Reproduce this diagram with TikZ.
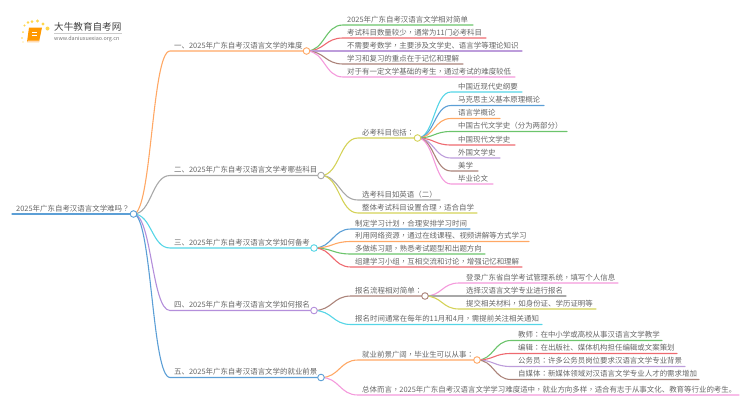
\documentclass[tikz,border=0pt]{standalone}
\usepackage{fontspec}
\setmainfont{Noto Sans CJK SC}
\newfontfamily\tcf{Noto Sans CJK TC}
\usetikzlibrary{calc}
\catcode`，=\active \protected\def，{{\tcf\char"FF0C }}
\catcode`：=\active \protected\def：{{\tcf\char"FF1A }}
\catcode`？=\active \protected\def？{{\tcf\char"FF1F }}
\definecolor{cOrange}{HTML}{FFA865}
\definecolor{cGrey}{HTML}{A8A8A8}
\definecolor{cCyan}{HTML}{55D5E6}
\definecolor{cPurple}{HTML}{B48FDB}
\definecolor{cBlue}{HTML}{5C9FD6}
\definecolor{cGreen}{HTML}{6CC46C}
\definecolor{cRed}{HTML}{EE6A70}
\definecolor{cBrown}{HTML}{AB8379}
\definecolor{cPink}{HTML}{F49ADC}
\definecolor{cOlive}{HTML}{D4D258}
\definecolor{cLilac}{HTML}{BD9DDB}
\definecolor{txt}{HTML}{666666}
\tikzset{
  x=1pt,y=-1pt,
  lbl/.style={inner sep=0pt,anchor=base west,text=txt,font=\fontsize{7.45}{9}\selectfont},
  hub/.style={circle,draw=#1,fill=white,line width=0.9pt,minimum size=6.6pt,inner sep=0pt},
  wire/.style={line width=1.1pt,line cap=round},
}
% name, parent, curve-end x, text x, y, end x, colour, text
\newcommand{\leaf}[8]{%
  \coordinate (#1s) at (#3,#5);
  \coordinate (#1e) at (#6,#5);
  \draw[wire,#7] (#2) .. controls ($(#2)!0.5!(#1s |- #2)$) and ($(#1s)!0.5!(#2 |- #1s)$) .. (#1s) -- (#1e);
  \node[lbl] (#1) at (#4,#5-2.6) {#8};
}
\newcommand{\hubat}[3]{\node[hub=#3] (#1) at #2 {};}
\begin{document}
\begin{tikzpicture}
\useasboundingbox (0,0) rectangle (750,410);
\coordinate (R) at (133.5,214);
\coordinate (B1) at (306.5,51);
\coordinate (B2) at (321,175.5);
\coordinate (B3) at (314,248);
\coordinate (B4) at (314,310.5);
\coordinate (B5) at (321,377.5);
\coordinate (S2) at (417.5,138);
\coordinate (S4) at (425,296);
\coordinate (S5) at (477,360);
% leaves of B1
\leaf{a1}{B1}{343}{347}{25}{473}{cGreen}{2025年广东自考汉语言文学相对简单}
\leaf{a2}{B1}{343}{347}{38}{486}{cRed}{考试科目数量较少，通常为11门必考科目}
\leaf{a3}{B1}{343}{347}{51}{522}{cLilac}{不需要考数学，主要涉及文学史、语言学等理论知识}
\leaf{a4}{B1}{343}{347}{64}{463}{cBrown}{学习和复习的重点在于记忆和理解}
\leaf{a5}{B1}{343}{347}{77}{515}{cPink}{对于有一定文学基础的考生，通过考试的难度较低}
% S2
\leaf{b1}{S2}{451}{458}{92}{522}{cCyan}{中国近现代史纲要}
\leaf{b2}{S2}{451}{458}{105.5}{544}{cBlue}{马克思主义基本原理概论}
\leaf{b3}{S2}{451}{458}{118.5}{500}{cOrange}{语言学概论}
\leaf{b4}{S2}{451}{458}{131.5}{567}{cGreen}{中国古代文学史（分为两部分）}
\leaf{b5}{S2}{451}{458}{145}{515}{cRed}{中国现代文学史}
\leaf{b6}{S2}{451}{458}{158}{500}{cLilac}{外国文学史}
\leaf{b7}{S2}{451}{458}{171}{478}{cBrown}{美学}
\leaf{b8}{S2}{451}{458}{184}{493}{cPink}{毕业论文}
% B2
\leaf{c1}{B2}{358}{362}{138}{414}{cOlive}{必考科目包括：}
\leaf{c2}{B2}{358}{362}{200}{440}{cGrey}{选考科目如英语（二）}
\leaf{c3}{B2}{358}{362}{213}{477}{cOlive}{整体考试科目设置合理，适合自学}
% B3
\leaf{d1}{B3}{351}{355}{229}{470}{cBlue}{制定学习计划，合理安排学习时间}
\leaf{d2}{B3}{351}{355}{241.5}{529}{cOrange}{利用网络资源，通过在线课程、视频讲解等方式学习}
\leaf{d3}{B3}{351}{355}{254}{485}{cGreen}{多做练习题，熟悉考试题型和出题方向}
\leaf{d4}{B3}{351}{355}{267}{522}{cRed}{组建学习小组，互相交流和讨论，增强记忆和理解}
% S4
\leaf{e1}{S4}{459}{466}{283}{618}{cPink}{登录广东省自学考试管理系统，填写个人信息}
\leaf{e2}{S4}{459}{466}{296}{566}{cGrey}{选择汉语言文学专业进行报名}
\leaf{e3}{S4}{459}{466}{309}{596}{cOlive}{提交相关材料，如身份证、学历证明等}
% B4
\leaf{f1}{B4}{351}{355}{296}{422}{cBrown}{报名流程相对简单：}
\leaf{f2}{B4}{351}{355}{324.5}{542}{cCyan}{报名时间通常在每年的11月和4月，需提前关注相关通知}
% S5
\leaf{g1}{S5}{511}{518}{340.5}{662}{cGreen}{教师：在中小学或高校从事汉语言文学教学}
\leaf{g2}{S5}{511}{518}{353.5}{677}{cRed}{编辑：在出版社、媒体机构担任编辑或文案策划}
\leaf{g3}{S5}{511}{518}{366.5}{685}{cLilac}{公务员：许多公务员岗位要求汉语言文学专业背景}
\leaf{g4}{S5}{511}{518}{379.5}{699}{cBrown}{自媒体：新媒体领域对汉语言文学专业人才的需求增加}
% B5
\leaf{h1}{B5}{358}{362}{360}{474}{cOrange}{就业前景广阔，毕业生可以从事：}
\leaf{h2}{B5}{358}{362}{395}{739}{cPink}{总体而言，2025年广东自考汉语言文学学习难度适中，就业方向多样，适合有志于从事文化、教育等行业的考生。}
% root branches
\leaf{t1}{R}{170}{174}{51}{304}{cOrange}{一、2025年广东自考汉语言文学的难度}
\leaf{t2}{R}{170}{174}{175.5}{318}{cGrey}{二、2025年广东自考汉语言文学考哪些科目}
\leaf{t3}{R}{170}{174}{248}{311}{cCyan}{三、2025年广东自考汉语言文学如何备考}
\leaf{t4}{R}{170}{174}{310.5}{311}{cPurple}{四、2025年广东自考汉语言文学如何报名}
\leaf{t5}{R}{170}{174}{377.5}{318}{cBlue}{五、2025年广东自考汉语言文学的就业前景}
% root
\coordinate (r0) at (12,214);
\draw[wire,cBlue] (r0) -- (R);
\node[lbl] (root) at (16,211.4) {2025年广东自考汉语言文学难吗？};
% hubs
\hubat{hR}{(R)}{cBlue}
\hubat{h1}{(B1)}{cOrange}
\hubat{h2}{(B2)}{cGrey}
\hubat{h3}{(B3)}{cCyan}
\hubat{h4}{(B4)}{cPurple}
\hubat{h5}{(B5)}{cBlue}
\hubat{hS2}{(S2)}{cOlive}
\hubat{hS4}{(S4)}{cBrown}
\hubat{hS5}{(S5)}{cOrange}
% logo
\foreach \x/\y/\r in {23/32/1,24.5/25.5/1.1,28/22.5/1.3,32/21.5/1.5,37.5/21/1.7,43/24/1.7,47.5/28.5/2,22/38/.8,23/42/.6}
  \fill[orange!45!yellow!70] (\x,\y) circle (\r);
\fill[orange!80!yellow] (29,27.5) -- (42,27.5) -- (39,42) -- (27,42) -- cycle;
\fill[orange!30!white] (27,42) -- (39,42) -- (39,40.5) -- (28,40.5) -- cycle;
\draw[white,line width=.5pt] (32,32) -- (37,32) (31.5,35) -- (36.5,35);
\node[inner sep=0pt,anchor=base west,text=black!75,font=\fontsize{9.6}{11}\selectfont] (logoA) at (54,30.5) {大牛教育自考网};
\draw[black!20,line width=.4pt] (54,33.5) -- (122,33.5);
\node[inner sep=0pt,anchor=base west,text=black!55,font=\fontsize{5.4}{7}\selectfont] (logoB) at (54,40.5) {www.daniuxuexiao.org.cn};
\end{tikzpicture}
\end{document}
